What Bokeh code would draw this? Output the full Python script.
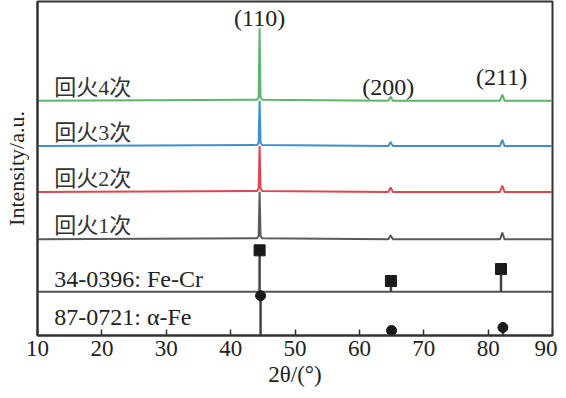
from bokeh.plotting import figure
from bokeh.models import Range1d, FixedTicker
from bokeh.core.properties import value
from bokeh.embed import file_html
from bokeh.resources import INLINE

# ---- data ----
two_theta = [10, 44.1, 44.35, 44.5, 44.65, 44.9, 64.5, 64.85, 65.2, 81.85, 82.2, 82.55, 90]
labels = ["回火1次", "回火2次", "回火3次", "回火4次"]
offsets = [28.8, 43.0, 56.7, 70.3]
int_1 = [0, 0.3, 1.0, 14.2, 1.0, 0.3, 0, 1.2, 0, 0, 2.0, 0, 0]
int_2 = [0, 0.3, 1.0, 13.7, 1.0, 0.3, 0, 1.3, 0, 0, 1.9, 0, 0]
int_3 = [0, 0.3, 1.0, 13.6, 1.0, 0.3, 0, 1.2, 0, 0, 1.9, 0, 0]
int_4 = [0, 0.3, 1.0, 21.7, 1.0, 0.3, 0, 1.2, 0, 0, 1.8, 0, 0]
colors = ["#5a5a5a", "#e0474c", "#3d8fd1", "#5cb56a"]

fecr_label = "34-0396: Fe-Cr"
fecr_base = 13.1
fecr_pos = [44.5, 64.9, 82.0]
fecr_int = [12.4, 3.2, 6.8]

afe_label = "87-0721: α-Fe"
afe_base = 0.0
afe_pos = [44.65, 65.0, 82.3]
afe_int = [11.9, 1.5, 2.4]

hkl = ["(110)", "(200)", "(211)"]
hkl_x = [44.5, 64.5, 82.1]
hkl_y = [95.2, 74.4, 77.4]

xticks = [10, 20, 30, 40, 50, 60, 70, 80, 90]

FONT = "'Liberation Serif', 'Times New Roman', serif"
CJK = "'Liberation Serif', 'Noto Sans CJK SC', serif"

p = figure(frame_width=515, frame_height=334, output_backend="svg", toolbar_location=None,
           x_range=Range1d(10, 90), y_range=Range1d(0, 100),
           min_border_left=0, min_border_right=5, min_border_top=1, min_border_bottom=0)
p.grid.visible = False
p.outline_line_color = "#333333"
p.outline_line_width = 2
p.background_fill_color = "white"
p.border_fill_color = "white"

# x axis
p.xaxis.ticker = FixedTicker(ticks=xticks)
p.xaxis.minor_tick_line_color = None
p.xaxis.major_tick_in = 6
p.xaxis.major_tick_out = 0
p.xaxis.major_tick_line_color = "#333333"
p.xaxis.major_tick_line_width = 1.5
p.xaxis.axis_line_color = "#333333"
p.xaxis.axis_line_width = 2
p.xaxis.major_label_text_font = FONT
p.xaxis.major_label_text_font_size = "23px"
p.xaxis.major_label_text_color = "#222222"
p.xaxis.major_label_standoff = 5
p.xaxis.axis_label = "2θ/(°)"
p.xaxis.axis_label_text_font = FONT
p.xaxis.axis_label_text_font_style = "normal"
p.xaxis.axis_label_text_font_size = "23px"
p.xaxis.axis_label_text_color = "#222222"
p.xaxis.axis_label_standoff = 3

# y axis
p.yaxis.ticker = FixedTicker(ticks=[])
p.yaxis.minor_tick_line_color = None
p.yaxis.major_tick_line_color = None
p.yaxis.axis_line_color = "#333333"
p.yaxis.axis_line_width = 2
p.yaxis.axis_label = "Intensity/a.u."
p.yaxis.axis_label_text_font = FONT
p.yaxis.axis_label_text_font_style = "normal"
p.yaxis.axis_label_text_font_size = "22px"
p.yaxis.axis_label_text_color = "#222222"
p.yaxis.axis_label_standoff = 9

# patterns
for ints, off, col, lab in zip([int_1, int_2, int_3, int_4], offsets, colors, labels):
    ys = [v + off for v in ints]
    p.line(two_theta, ys, line_color=col, line_width=2)
    p.text(x=[12.6], y=[off + 4.0], text=[lab], text_font=value(CJK),
           text_font_size="22px", text_color="#333333", text_baseline="middle")

# Fe-Cr reference
p.line([10, 90], [fecr_base, fecr_base], line_color="#555555", line_width=2)
p.segment(x0=fecr_pos, y0=[fecr_base] * 3, x1=fecr_pos, y1=[fecr_base + v for v in fecr_int],
          line_color="#444444", line_width=2.5)
p.scatter(fecr_pos, [fecr_base + v for v in fecr_int], marker="square", size=11,
          fill_color="#1a1a1a", line_color="#1a1a1a")
p.text(x=[12.6], y=[17.0], text=[fecr_label], text_font=value(FONT),
       text_font_size="24px", text_color="#222222", text_baseline="middle")

# alpha-Fe reference
p.segment(x0=afe_pos, y0=[afe_base] * 3, x1=afe_pos, y1=[afe_base + v for v in afe_int],
          line_color="#444444", line_width=2.5)
p.scatter(afe_pos, [afe_base + v for v in afe_int], marker="circle", size=10,
          fill_color="#1a1a1a", line_color="#1a1a1a")
p.text(x=[12.6], y=[5.5], text=[afe_label], text_font=value(FONT),
       text_font_size="24px", text_color="#222222", text_baseline="middle")

# hkl labels
p.text(x=hkl_x, y=hkl_y, text=hkl, text_font=value(FONT), text_font_size="24px",
       text_color="#222222", text_align="center", text_baseline="middle")

open("out.html", "w").write(file_html(p, INLINE))
